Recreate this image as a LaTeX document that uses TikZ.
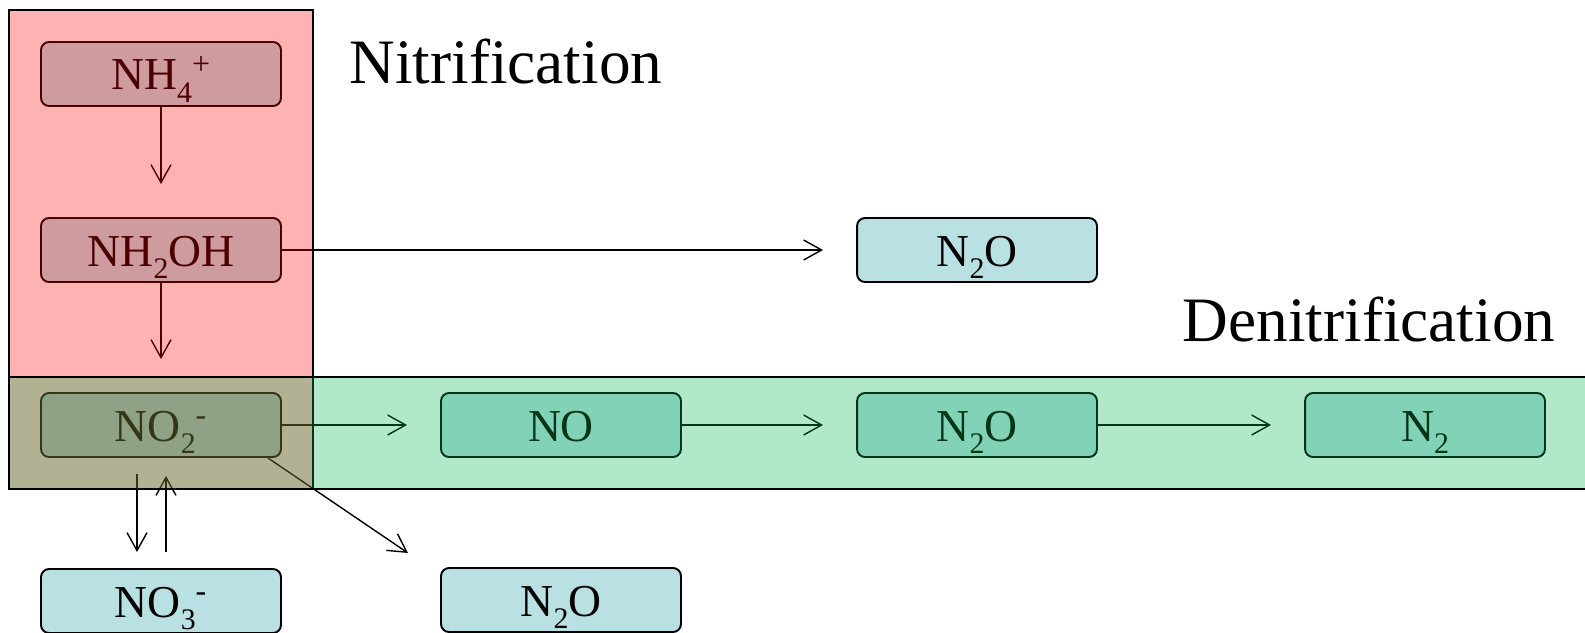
\documentclass[tikz,border=0pt]{standalone}
\usepackage{fontspec}
\setmainfont{Liberation Serif}
\usetikzlibrary{arrows.meta, positioning}
\definecolor{speciesblue}{HTML}{B9E0E3}
\definecolor{nitrired}{HTML}{FF0000}
\definecolor{denitrigreen}{HTML}{00B24E}
\newcommand{\chemsub}[1]{\raisebox{-0.28em}{\fontsize{17}{18}\selectfont #1}}

\begin{document}
\begin{tikzpicture}[x=0.02cm, y=-0.02cm,
    species/.style={draw=black, fill=speciesblue, line width=1.1pt, rounded corners=0.16cm,
      minimum width=4.8cm, minimum height=1.28cm, inner sep=0pt, text height=0.64cm, text depth=0pt,
      font=\fontsize{26}{30}\selectfont},
    flow/.style={-{Straight Barb[length=0.36cm, width=0.4cm]}, line width=0.8pt, shorten >=0.66cm},
    band/.style={draw=black, line width=1.2pt, fill opacity=0.3},
    title/.style={font=\fontsize{36}{42}\selectfont, inner sep=0pt, anchor=base}]
  \useasboundingbox (0,0) rectangle (1585,632);
  \clip (0,0) rectangle (1585,632);

  % Species
  \node[species] (nh4) at (161,74) {NH\chemsub{4}\textsuperscript{+}};
  \node[species] (nh2oh) at (161,250) {NH\chemsub{2}OH};
  \node[species] (no2) at (161,425) {NO\chemsub{2}\textsuperscript{-}};
  \node[species] (no3) at (161,601) {NO\chemsub{3}\textsuperscript{-}};
  \node[species] (no) at (561,425) {NO};
  \node[species] (n2oa) at (977,250) {N\chemsub{2}O};
  \node[species] (n2ob) at (977,425) {N\chemsub{2}O};
  \node[species] (n2) at (1425,425) {N\chemsub{2}};
  \node[species] (n2oc) at (561,600) {N\chemsub{2}O};

  % Pathways
  \draw[flow] (nh4) -- (nh2oh);
  \draw[flow] (nh2oh) -- (no2);
  \draw[flow] (nh2oh) -- (n2oa);
  \draw[flow] (no2) -- (no);
  \draw[flow] (no) -- (n2ob);
  \draw[flow] (n2ob) -- (n2);
  \coordinate (leak) at ([xshift=-0.28cm]no2.south east);
  \coordinate (leakend) at (408,553);
  \draw[flow, shorten >=0pt] (leak) -- (leakend);
  \draw[flow, shorten <=0.32cm, shorten >=0.32cm] ([xshift=-0.48cm]no2.south) -- ([xshift=-0.48cm]no3.north);
  \draw[flow, shorten <=0.32cm, shorten >=0.36cm] ([xshift=0.1cm]no3.north) -- ([xshift=0.1cm]no2.south);

  % Bands
  \draw[band, fill=nitrired] (9,10) rectangle (313,489);
  \draw[band, fill=denitrigreen] (9,377) rectangle (1600,489);

  % Titles
  \node[title] (nitri) at (506,83) {Nitrification};
  \node[title] (denitri) at (1369,341) {Denitrification};
\end{tikzpicture}
\end{document}
